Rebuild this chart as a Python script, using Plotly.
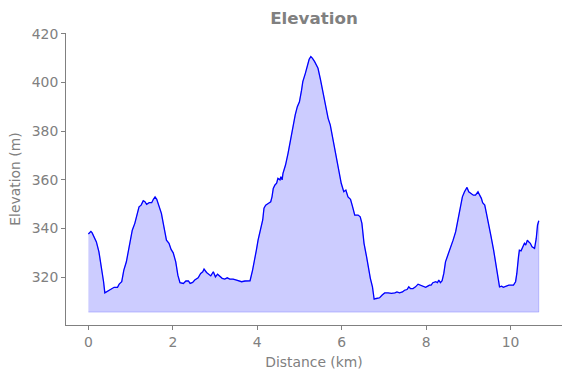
import plotly.graph_objects as go

distance_km = [0.00, 0.06, 0.09, 0.15, 0.19, 0.25, 0.31, 0.36, 0.39, 0.45, 0.53, 0.61, 0.69, 0.73, 0.79,
               0.84, 0.90, 0.96, 1.04, 1.10, 1.16, 1.20, 1.25, 1.30, 1.34, 1.38, 1.44, 1.50, 1.54, 1.58,
               1.62, 1.67, 1.73, 1.79, 1.85, 1.91, 1.96, 2.01, 2.07, 2.12, 2.17, 2.25, 2.31, 2.37, 2.41,
               2.47, 2.52, 2.60, 2.66, 2.71, 2.74, 2.80, 2.86, 2.90, 2.96, 3.01, 3.06, 3.12, 3.17, 3.23,
               3.29, 3.35, 3.43, 3.51, 3.59, 3.63, 3.71, 3.83, 3.89, 3.94, 3.98, 4.02, 4.08, 4.13, 4.16,
               4.20, 4.26, 4.32, 4.35, 4.38, 4.42, 4.46, 4.49, 4.54, 4.56, 4.59, 4.61, 4.67, 4.73, 4.79,
               4.85, 4.90, 4.95, 5.00, 5.05, 5.08, 5.14, 5.19, 5.23, 5.27, 5.31, 5.36, 5.40, 5.44, 5.50,
               5.56, 5.62, 5.68, 5.73, 5.80, 5.86, 5.93, 5.99, 6.05, 6.10, 6.15, 6.21, 6.26, 6.31, 6.39,
               6.44, 6.48, 6.53, 6.59, 6.64, 6.68, 6.73, 6.77, 6.82, 6.90, 6.96, 7.02, 7.10, 7.18, 7.26,
               7.31, 7.37, 7.44, 7.49, 7.55, 7.59, 7.63, 7.69, 7.75, 7.81, 7.86, 7.93, 7.99, 8.04, 8.08,
               8.12, 8.16, 8.23, 8.27, 8.30, 8.34, 8.38, 8.42, 8.46, 8.52, 8.57, 8.64, 8.70, 8.75, 8.81,
               8.86, 8.91, 8.97, 9.01, 9.07, 9.12, 9.17, 9.23, 9.27, 9.31, 9.34, 9.39, 9.43, 9.49, 9.54,
               9.60, 9.65, 9.70, 9.74, 9.79, 9.83, 9.90, 9.96, 10.02, 10.07, 10.12, 10.15, 10.19, 10.21,
               10.25, 10.29, 10.33, 10.36, 10.40, 10.43, 10.47, 10.51, 10.57, 10.61, 10.64, 10.67]

elevation_m = [337.7, 338.8, 338.2, 336.0, 334.5, 330.4, 324.2, 318.1, 313.5, 314.2, 314.9, 315.8, 315.8, 317.1, 318.1,
               322.9, 326.3, 332.5, 339.3, 342.1, 346.2, 348.9, 349.6, 351.4, 351.0, 349.9, 350.6, 350.6, 352.0, 353.0,
               352.0, 349.6, 346.2, 340.7, 335.2, 333.9, 331.4, 330.0, 326.3, 320.8, 317.7, 317.4, 318.4, 318.4, 317.4,
               317.8, 318.8, 319.7, 321.5, 322.2, 323.3, 321.9, 321.2, 320.5, 322.2, 320.1, 321.2, 320.4, 319.5, 319.2,
               319.7, 319.2, 319.2, 318.8, 318.4, 318.1, 318.4, 318.5, 322.9, 327.0, 331.1, 335.2, 339.3, 343.5, 348.3,
               349.6, 350.3, 351.0, 353.0, 356.5, 357.9, 358.6, 360.6, 360.0, 361.3, 360.0, 362.7, 366.1, 370.9, 377.1,
               381.9, 386.7, 390.1, 392.1, 396.9, 400.4, 403.8, 407.2, 409.6, 410.7, 410.0, 408.6, 407.5, 405.9, 401.1,
               395.6, 390.1, 385.3, 382.6, 376.4, 369.5, 364.0, 358.6, 355.1, 355.8, 353.0, 352.0, 348.9, 345.5, 345.5,
               344.8, 342.1, 333.9, 328.4, 322.9, 319.5, 316.0, 310.9, 311.2, 311.5, 312.6, 313.5, 313.5, 313.3, 313.5,
               313.9, 313.5, 313.9, 314.6, 314.9, 316.0, 315.3, 315.3, 316.0, 317.1, 316.7, 316.0, 315.8, 316.3, 316.7,
               316.7, 317.7, 318.1, 317.7, 318.8, 317.7, 318.5, 321.5, 326.3, 329.0, 331.8, 335.2, 338.6, 343.5, 348.9,
               353.0, 355.1, 356.9, 355.1, 354.2, 353.7, 353.7, 355.1, 353.7, 352.4, 350.6, 349.6, 346.2, 341.4, 336.6,
               331.1, 325.6, 319.5, 316.0, 316.3, 315.8, 316.3, 316.7, 316.7, 316.7, 318.1, 321.5, 328.4, 331.1,
               330.8, 332.5, 333.9, 333.2, 335.2, 334.5, 333.9, 332.5, 331.8, 335.9, 341.4, 343.2]

fill_base_m = 305.6
x_ticks = [0, 2, 4, 6, 8, 10]
y_ticks = [320, 340, 360, 380, 400, 420]

grey = "#808080"
font_family = "DejaVu Sans"

fig = go.Figure()

# shaded area polygon (alpha 0.2 blue, with a faint edge)
poly_x = distance_km + distance_km[::-1]
poly_y = elevation_m + [fill_base_m] * len(distance_km)
fig.add_trace(go.Scatter(
    x=poly_x, y=poly_y, mode="lines", fill="toself",
    fillcolor="rgba(0,0,255,0.2)", line=dict(color="rgba(0,0,255,0.2)", width=1),
    hoverinfo="skip", showlegend=False,
))

fig.add_trace(go.Scatter(
    x=distance_km, y=elevation_m, mode="lines",
    line=dict(color="blue", width=1.3), showlegend=False,
))

axis_common = dict(
    showgrid=False, zeroline=False, showline=True, linecolor=grey, linewidth=1,
    ticks="outside", ticklen=4, tickcolor=grey, tickwidth=1, automargin=False,
    tickfont=dict(family=font_family, size=13.9, color=grey),
)

fig.update_layout(
    width=571, height=378,
    margin=dict(l=66, r=9, t=33, b=53, autoexpand=False),
    paper_bgcolor="white", plot_bgcolor="white",
    title=dict(text="<b>Elevation</b>", x=(66 + 562) / 2 / 571, xanchor="center",
               y=1 - 18 / 378, yanchor="middle", automargin=False,
               font=dict(family=font_family, size=16.7, color=grey)),
    xaxis=dict(range=[-0.53, 11.22], tickvals=x_ticks,
               title=dict(text="Distance (km)", font=dict(family=font_family, size=13.9, color=grey), standoff=8),
               **axis_common),
    yaxis=dict(range=[300.3, 420.4], tickvals=y_ticks,
               title=dict(text="Elevation (m)", font=dict(family=font_family, size=13.9, color=grey), standoff=7),
               **axis_common),
)

fig.write_html("out.html", config={"displayModeBar": False},
               post_script="document.body.style.margin='0';document.body.style.padding='0';")
